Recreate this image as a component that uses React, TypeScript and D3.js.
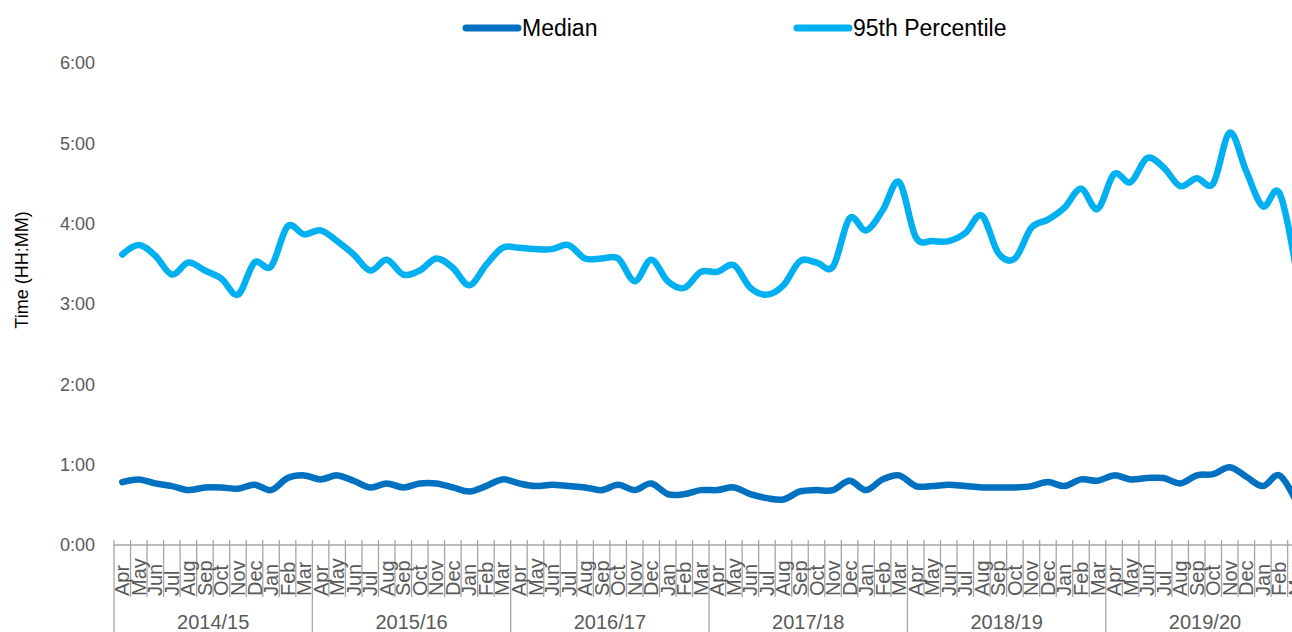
import React, { useEffect, useRef } from 'react'
import * as d3 from 'd3'

// months of the financial year, Apr..Mar
const months = ['Apr', 'May', 'Jun', 'Jul', 'Aug', 'Sep', 'Oct', 'Nov', 'Dec', 'Jan', 'Feb', 'Mar']
const years = ['2014/15', '2015/16', '2016/17', '2017/18', '2018/19', '2019/20']
// tick values in minutes
const yTicks = [0, 60, 120, 180, 240, 300, 360]

// values in minutes, one per month from Apr 2014
const median = [
  47, 49, 46, 44, 41, 43, 43, 42, 45, 41, 50, 52,
  49, 52, 48, 43, 46, 43, 46, 46, 43, 40, 44, 49,
  46, 44, 45, 44, 43, 41, 45, 41, 46, 38, 38, 41,
  41, 43, 38, 35, 34, 40, 41, 41, 48, 41, 49, 52,
  44, 44, 45, 44, 43, 43, 43, 44, 47, 44, 49, 48,
  52, 49, 50, 50, 46, 52, 53, 58, 51, 44, 52, 33,
]
const p95 = [
  217, 224, 216, 202, 211, 205, 199, 187, 211, 208, 238, 232,
  235, 227, 217, 205, 213, 202, 205, 214, 207, 194, 209, 222,
  222, 221, 221, 224, 214, 214, 214, 197, 213, 197, 192, 204,
  204, 209, 192, 187, 194, 212, 211, 208, 244, 235, 250, 271,
  230, 227, 227, 233, 246, 218, 214, 237, 243, 252, 266, 251,
  277, 271, 289, 282, 268, 274, 270, 308, 279, 253, 263, 207,
]

const font = '"Liberation Sans", Arial, sans-serif'

function fmt(m: number) {
  return Math.floor(m / 60) + ':' + String(m % 60).padStart(2, '0')
}

export default function App() {
  const ref = useRef<SVGSVGElement>(null)

  useEffect(() => {
    const svg = d3.select(ref.current)
    svg.selectAll('*').remove()

    const cats = years.flatMap(yr => months.map(m => yr + ' ' + m))
    const x = d3.scaleBand().domain(cats).range([114, 114 + cats.length * 16.53])
    const y = d3.scaleLinear().domain([0, 360]).range([545, 63])
    const cx = (i: number) => x(cats[i])! + x.bandwidth() / 2

    // y labels
    svg.append('g').selectAll('text').data(yTicks).enter().append('text')
      .attr('x', 95).attr('y', d => y(d)).attr('dy', '0.35em')
      .attr('text-anchor', 'end').style('font', '18px ' + font).attr('fill', '#595959')
      .text(d => fmt(d))

    svg.append('text')
      .attr('transform', 'translate(22,270) rotate(-90)')
      .attr('text-anchor', 'middle').attr('dy', '0.35em')
      .style('font', '18px ' + font).attr('fill', '#000')
      .text('Time (HH:MM)')

    // x axis
    const ax = svg.append('g')
    const [x0, x1] = x.range()
    ax.append('line').attr('x1', x0).attr('x2', x1).attr('y1', y(0)).attr('y2', y(0))
      .attr('stroke', '#A6A6A6').attr('stroke-width', 1.5)
    const edges = d3.range(cats.length + 1)
    ax.selectAll('line.tick').data(edges).enter().append('line').attr('class', 'tick')
      .attr('x1', i => x0 + i * x.step()).attr('x2', i => x0 + i * x.step())
      .attr('y1', y(0) - 5).attr('y2', i => (i % 12 === 0 ? 640 : 597))
      .attr('stroke', '#A6A6A6').attr('stroke-width', 1.3)

    ax.selectAll('text.month').data(cats).enter().append('text').attr('class', 'month')
      .attr('transform', (d, i) => `translate(${cx(i)},596) rotate(-90)`)
      .attr('dy', '0.35em').attr('text-anchor', 'start')
      .style('font', '20px ' + font).attr('fill', '#595959')
      .text(d => d.split(' ')[1])

    ax.selectAll('text.year').data(years).enter().append('text').attr('class', 'year')
      .attr('x', (d, i) => x0 + (i * 12 + 6) * x.step()).attr('y', 629)
      .attr('text-anchor', 'middle')
      .style('font', '20px ' + font).attr('fill', '#595959')
      .text(d => d)

    // lines
    const line = d3.line<number>().x((d, i) => cx(i)).y(d => y(d)).curve(d3.curveCardinal.tension(0))
    const series = [
      { name: 'Median', values: median, color: '#0070C0', lx: 466 },
      { name: '95th Percentile', values: p95, color: '#00B0F0', lx: 797 },
    ]
    series.forEach(s => {
      svg.append('path').attr('d', line(s.values)).attr('fill', 'none')
        .attr('stroke', s.color).attr('stroke-width', 6.5)
        .attr('stroke-linecap', 'round').attr('stroke-linejoin', 'round')
      svg.append('line').attr('x1', s.lx).attr('x2', s.lx + 52).attr('y1', 28).attr('y2', 28)
        .attr('stroke', s.color).attr('stroke-width', 7).attr('stroke-linecap', 'round')
      svg.append('text').attr('x', s.lx + 56).attr('y', 28).attr('dy', '0.35em')
        .style('font', '23px ' + font).attr('fill', '#000').text(s.name)
    })
  }, [])

  return <svg ref={ref} width={1292} height={632} style={{ position: 'absolute', left: 0, top: 0, background: '#fff' }} />
}
